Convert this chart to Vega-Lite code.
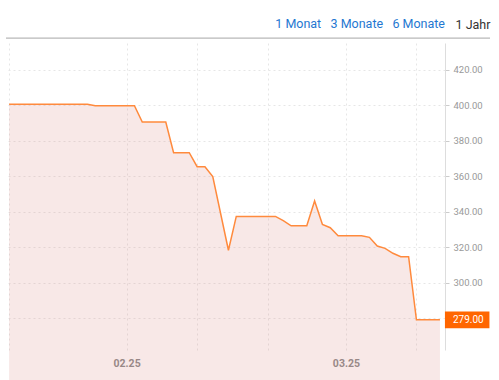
{
  "$schema": "https://vega.github.io/schema/vega-lite/v6.json",
  "width": 439,
  "height": 307,
  "autosize": {"type": "none"},
  "padding": {"left": 6, "top": 43, "right": 54, "bottom": 30},
  "background": "white",
  "title": {
    "text": "1 Monat\u00a0\u00a0\u00a03 Monate\u00a0\u00a0\u00a06 Monate",
    "anchor": "end",
    "frame": "group",
    "color": "#1f78d1",
    "font": "Roboto",
    "fontSize": 12.5,
    "fontWeight": "normal",
    "baseline": "alphabetic",
    "offset": 15,
    "dy": 37
  },
  "config": {
    "view": {"stroke": null},
    "font": "Roboto",
    "axis": {
      "gridColor": "#e6e6e6",
      "gridDash": [2, 3],
      "gridWidth": 1
    }
  },
  "data": {
    "values": [
      {"date": "2025-01-17", "price": 400.5},
      {"date": "2025-01-27", "price": 400.5},
      {"date": "2025-01-28", "price": 399.7},
      {"date": "2025-02-02", "price": 399.7},
      {"date": "2025-02-03", "price": 390.5},
      {"date": "2025-02-06", "price": 390.5},
      {"date": "2025-02-07", "price": 373.2},
      {"date": "2025-02-09", "price": 373.2},
      {"date": "2025-02-10", "price": 365.3},
      {"date": "2025-02-11", "price": 365.3},
      {"date": "2025-02-12", "price": 359.7},
      {"date": "2025-02-14", "price": 318.2},
      {"date": "2025-02-15", "price": 337.3},
      {"date": "2025-02-20", "price": 337.3},
      {"date": "2025-02-21", "price": 334.9},
      {"date": "2025-02-22", "price": 332.0},
      {"date": "2025-02-24", "price": 332.0},
      {"date": "2025-02-25", "price": 346.0},
      {"date": "2025-02-26", "price": 332.7},
      {"date": "2025-02-27", "price": 330.9},
      {"date": "2025-02-28", "price": 326.4},
      {"date": "2025-03-03", "price": 326.4},
      {"date": "2025-03-04", "price": 325.5},
      {"date": "2025-03-05", "price": 320.6},
      {"date": "2025-03-06", "price": 319.3},
      {"date": "2025-03-07", "price": 316.5},
      {"date": "2025-03-08", "price": 314.6},
      {"date": "2025-03-09", "price": 314.6},
      {"date": "2025-03-10", "price": 279.0},
      {"date": "2025-03-13", "price": 279.0}
    ]
  },
  "encoding": {
    "x": {
      "field": "date",
      "type": "temporal",
      "title": null,
      "scale": {
        "type": "utc",
        "domain": [
          {"year": 2025, "month": 1, "date": 16, "hours": 14, "minutes": 30, "utc": true},
          {"year": 2025, "month": 3, "date": 13, "hours": 15, "minutes": 30, "utc": true}
        ]
      },
      "axis": {
        "values": [
          {"year": 2025, "month": 1, "date": 17, "utc": true},
          {"year": 2025, "month": 2, "date": 1, "utc": true},
          {"year": 2025, "month": 2, "date": 10, "utc": true},
          {"year": 2025, "month": 2, "date": 19, "utc": true},
          {"year": 2025, "month": 3, "date": 1, "utc": true},
          {"year": 2025, "month": 3, "date": 10, "utc": true}
        ],
        "labelExpr": "utcdate(datum.value) == 1 ? utcFormat(datum.value, '%m.%y') : ''",
        "ticks": false,
        "domain": false,
        "labelColor": "#888888",
        "labelFontWeight": "bold",
        "labelFontSize": 10.5,
        "labelPadding": 8,
        "grid": true
      }
    },
    "y": {
      "field": "price",
      "type": "quantitative",
      "title": null,
      "scale": {"domain": [262, 435], "zero": false, "nice": false},
      "axis": {
        "orient": "right",
        "values": [280, 300, 320, 340, 360, 380, 400, 420],
        "labelExpr": "datum.value == 280 ? '' : format(datum.value, '.2f')",
        "domainColor": "#dddddd",
        "tickColor": "#cccccc",
        "tickSize": 4,
        "labelColor": "#999999",
        "labelFontSize": 9.5,
        "labelPadding": 4,
        "title": "1 Jahr",
        "titleAngle": 0,
        "titleAlign": "left",
        "titleBaseline": "alphabetic",
        "titleX": 10,
        "titleY": -15,
        "titleColor": "#333333",
        "titleFont": "Roboto",
        "titleFontSize": 12.5,
        "titleFontWeight": "normal"
      }
    }
  },
  "layer": [
    {
      "mark": {"type": "area", "color": "#dc8c87", "opacity": 0.2, "interpolate": "linear"}
    },
    {
      "mark": {"type": "line", "color": "#ff8a3d", "strokeWidth": 1.5, "interpolate": "linear"}
    },
    {
      "data": {"values": [{"start": 1737037800000, "end": 1742376600000, "level": 437.8}]},
      "mark": {"type": "rule", "color": "#b8b8b8", "strokeWidth": 1.2, "clip": false},
      "encoding": {
        "x": {"field": "start", "type": "temporal"},
        "x2": {"field": "end"},
        "y": {"field": "level", "type": "quantitative"}
      }
    },
    {
      "data": {"values": [{"date": "2025-03-13", "price": 279.0}]},
      "mark": {
        "type": "point",
        "shape": "M5,-8.3H49.5V8.3H5Z",
        "size": 4,
        "filled": true,
        "color": "#ff6600",
        "opacity": 1,
        "clip": false
      }
    },
    {
      "data": {"values": [{"date": "2025-03-13", "price": 279.0}]},
      "mark": {
        "type": "text",
        "color": "white",
        "align": "left",
        "baseline": "middle",
        "dx": 13,
        "fontSize": 10,
        "font": "Roboto",
        "clip": false
      },
      "encoding": {"text": {"field": "price", "type": "quantitative", "format": ".2f"}}
    }
  ]
}
